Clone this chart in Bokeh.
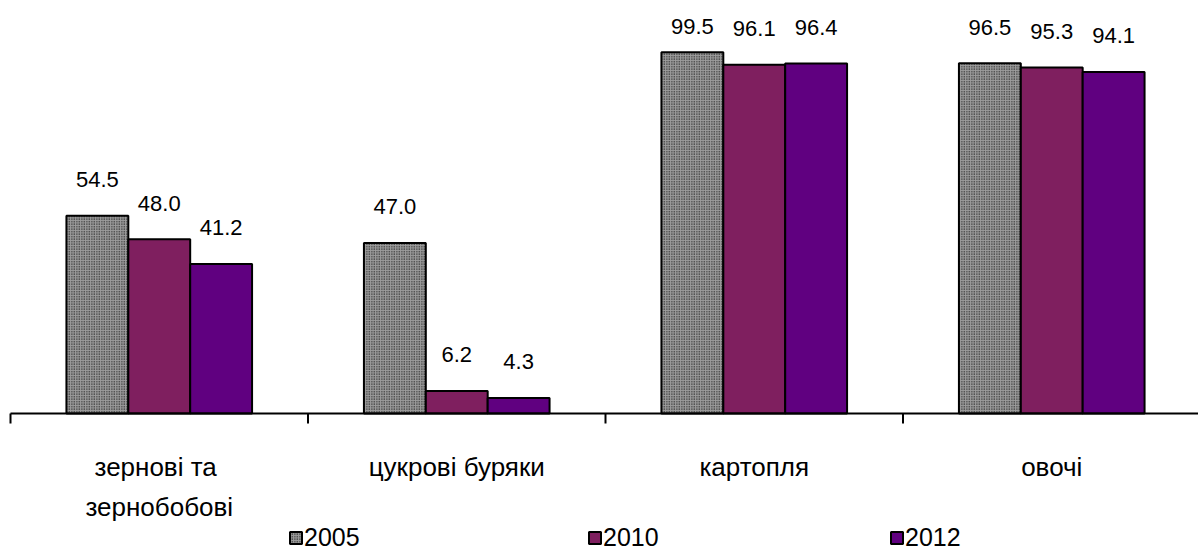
from bokeh.plotting import figure
from bokeh.models import ColumnDataSource, Range1d, Legend, LegendItem
from bokeh.core.properties import value
from bokeh.embed import file_html
from bokeh.resources import INLINE

categories = ["зернові  та\nзернобобові", "цукрові буряки", "картопля", "овочі"]
years = ["2005", "2010", "2012"]
v2005 = [54.5, 47.0, 99.5, 96.5]
v2010 = [48.0, 6.2, 96.1, 95.3]
v2012 = [41.2, 4.3, 96.4, 94.1]

series = [v2005, v2010, v2012]
colors = ["#9c9c9c", "#7f1f5f", "#600080"]
FONT = "Liberation Sans"

W, H = 1198, 552
left_px = 10          # pixel position of the category axis start
base_px = 413         # pixel position of the zero line
cat_px = 297.5        # pixel width of one category
px_per_unit = 3.63    # pixel per value unit
label_cap = 96.7      # data labels are kept below the chart top

x_start = -left_px / cat_px
x_end = (W - left_px) / cat_px
y_end = base_px / px_per_unit
y_start = -(H - base_px) / px_per_unit

bar_w = 0.208
n = len(categories)
centers = [i + 0.5 for i in range(n)]
bounds = list(range(n + 1))

p = figure(width=W, height=H, output_backend="svg", toolbar_location=None,
           x_range=Range1d(x_start, x_end), y_range=Range1d(y_start, y_end),
           x_axis_location=None, y_axis_location=None,
           min_border_left=0, min_border_right=0, min_border_top=0, min_border_bottom=0)
p.outline_line_color = None
p.xgrid.visible = False
p.ygrid.visible = False
p.background_fill_color = "white"
p.border_fill_color = "white"

renderers = []
for k, (vals, col) in enumerate(zip(series, colors)):
    xs = [c + (k - 1) * bar_w for c in centers]
    src = ColumnDataSource(dict(x=xs, top=vals, ly=[min(v, label_cap) for v in vals],
                                lab=[f"{v:.1f}" for v in vals]))
    if k == 0:
        kw = dict(fill_color=col, hatch_pattern="dot", hatch_color="#000000",
                  hatch_scale=2.5, hatch_weight=1.5)
    else:
        kw = dict(fill_color=col)
    r = p.vbar(x="x", top="top", width=bar_w, bottom=0, source=src,
               line_color="black", line_width=2, **kw)
    renderers.append(r)
    p.text(x="x", y="ly", text="lab", source=src, text_align="center",
           text_baseline="alphabetic", y_offset=-36, text_font=value(FONT),
           text_font_size="22px", text_color="black")

# category axis: line, boundary ticks, labels
p.segment(x0=[bounds[0]], x1=[x_end], y0=[0], y1=[0], line_color="black", line_width=2)
tick_len = 10 / px_per_unit
p.segment(x0=bounds, x1=bounds, y0=[0] * len(bounds), y1=[-tick_len] * len(bounds),
          line_color="black", line_width=2)
csrc = ColumnDataSource(dict(x=centers, y=[0] * n, t=categories))
p.text(x="x", y="y", text="t", source=csrc, text_align="center", text_baseline="top",
       y_offset=38, text_font=value(FONT), text_font_size="26px",
       text_color="black", text_line_height=1.35)

leg_x = [288, 587, 889]
for yr, r, lx in zip(years, renderers, leg_x):
    leg = Legend(items=[LegendItem(label=yr, renderers=[r])], location=(lx, 0),
                 glyph_width=15, glyph_height=15, label_standoff=1, padding=0, margin=0,
                 border_line_alpha=0, background_fill_alpha=0,
                 label_text_font=FONT, label_text_font_size="25px", label_text_color="black",
                 label_height=20)
    p.add_layout(leg, "center")

open("out.html", "w").write(file_html(p, INLINE))
